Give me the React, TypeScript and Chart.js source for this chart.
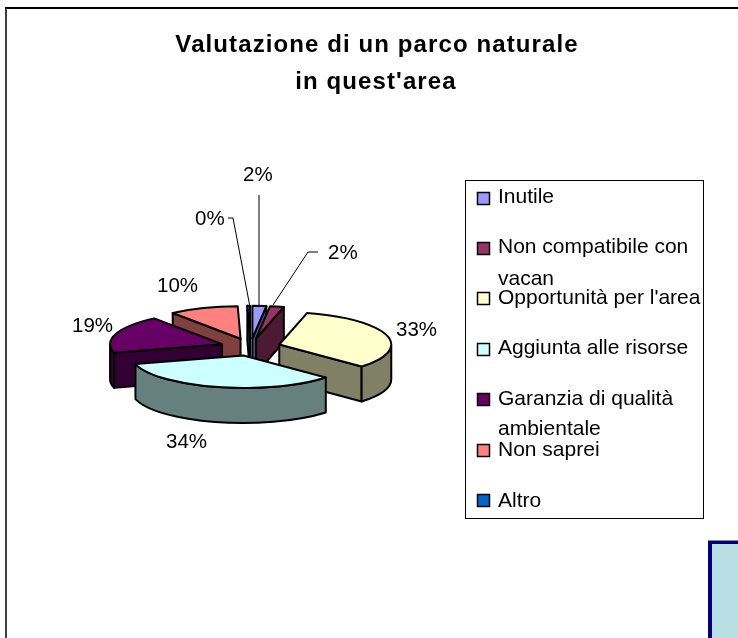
import React, { useEffect, useRef } from "react";
import { Chart, registerables } from "chart.js";

Chart.register(...registerables);

const titleLines = ["Valutazione di un parco naturale", "in quest'area"];
const categories = [
  "Inutile",
  "Non compatibile con vacan",
  "Opportunità per l'area",
  "Aggiunta alle risorse",
  "Garanzia di qualità ambientale",
  "Non saprei",
  "Altro",
];
const values = [2, 2, 33, 34, 19, 10, 0.4];
const topColors = ["#9999ff", "#993366", "#ffffcc", "#ccffff", "#660066", "#ff8080", "#0066cc"];
const wallColors = ["#4d4d80", "#4d1a33", "#808066", "#668080", "#330033", "#804040", "#003366"];

const FONT = '"Liberation Sans", Arial, sans-serif';
const FLATTEN = 0.29;
const DEPTH = 35;
const EXPLODE = 30;
const paintOrder = [6, 0, 1, 5, 4, 2, 3];
const labelSpots = [
  { x: 243, y: 181 },
  { x: 328, y: 259 },
  { x: 396, y: 336 },
  { x: 166, y: 448 },
  { x: 72, y: 332 },
  { x: 157, y: 292 },
  { x: 195, y: 225 },
];
const leaders = [
  [[259, 195], [259, 307]],
  [[318, 252], [308, 252], [273, 305]],
  [[228, 218], [233, 218], [250, 307]],
];
const legendRows = [
  { box: 198, text: [203] },
  { box: 248, text: [253, 285] },
  { box: 298, text: [304] },
  { box: 349, text: [354] },
  { box: 399, text: [405, 435] },
  { box: 450, text: [456] },
  { box: 500, text: [507] },
];

function wrap(ctx: CanvasRenderingContext2D, s: string, max: number): string[] {
  const out: string[] = [];
  let cur = "";
  for (const w of s.split(" ")) {
    const t = cur ? cur + " " + w : w;
    if (ctx.measureText(t).width > max && cur) {
      out.push(cur);
      cur = w;
    } else cur = t;
  }
  if (cur) out.push(cur);
  return out;
}

const pie3d = {
  id: "pie3d",
  beforeDatasetsDraw(chart: any) {
    const ctx: CanvasRenderingContext2D = chart.ctx;
    const arcs = chart.getDatasetMeta(0).data;
    for (const i of paintOrder) {
      const arc = arcs[i];
      const { x, y, startAngle: s, endAngle: e, outerRadius: r } = arc;
      const mid = (s + e) / 2;
      const ax = x + Math.cos(mid) * EXPLODE;
      const ay = y + Math.sin(mid) * EXPLODE * FLATTEN;
      const px = (t: number) => ax + Math.cos(t) * r;
      const py = (t: number) => ay + Math.sin(t) * r * FLATTEN;

      ctx.save();
      ctx.lineWidth = 2;
      ctx.lineJoin = "round";
      ctx.strokeStyle = "#000";
      ctx.fillStyle = wallColors[i];

      const face = (t: number) => {
        ctx.beginPath();
        ctx.moveTo(ax, ay);
        ctx.lineTo(px(t), py(t));
        ctx.lineTo(px(t), py(t) + DEPTH);
        ctx.lineTo(ax, ay + DEPTH);
        ctx.closePath();
        ctx.fill();
        ctx.stroke();
      };
      if (Math.cos(s) < 0) face(s);
      if (Math.cos(e) > 0) face(e);

      const a0 = Math.max(s, 0);
      const a1 = Math.min(e, Math.PI);
      if (a1 > a0) {
        ctx.beginPath();
        ctx.ellipse(ax, ay, r, r * FLATTEN, 0, a0, a1);
        ctx.lineTo(px(a1), py(a1) + DEPTH);
        ctx.ellipse(ax, ay + DEPTH, r, r * FLATTEN, 0, a1, a0, true);
        ctx.closePath();
        ctx.fill();
        ctx.stroke();
      }

      ctx.save();
      ctx.translate(ax, ay);
      ctx.scale(1, FLATTEN);
      ctx.translate(-x, -y);
      arc.draw(ctx);
      ctx.restore();

      ctx.beginPath();
      ctx.moveTo(ax, ay);
      ctx.ellipse(ax, ay, r, r * FLATTEN, 0, s, e);
      ctx.closePath();
      ctx.stroke();
      ctx.restore();
    }
    return false;
  },
  afterDraw(chart: any) {
    const ctx: CanvasRenderingContext2D = chart.ctx;
    ctx.save();

    // outer frame
    ctx.fillStyle = "#404040";
    ctx.fillRect(5, 8, 2, 630);
    ctx.fillStyle = "#000";
    ctx.fillRect(5, 7, 733, 2);

    // title
    ctx.fillStyle = "#000";
    ctx.textBaseline = "alphabetic";
    ctx.textAlign = "center";
    ctx.font = `bold 24px ${FONT}`;
    (ctx as any).letterSpacing = "1.1px";
    ctx.fillText(titleLines[0], 377, 52);
    ctx.fillText(titleLines[1], 376, 89);
    (ctx as any).letterSpacing = "0px";
    ctx.textAlign = "left";

    // value labels
    ctx.font = `20.5px ${FONT}`;
    const total = values.reduce((a, b) => a + b, 0);
    values.forEach((v, i) => {
      ctx.fillText(`${Math.round((v / total) * 100)}%`, labelSpots[i].x, labelSpots[i].y);
    });

    // leader lines
    ctx.strokeStyle = "#000";
    ctx.lineWidth = 1;
    for (const l of leaders) {
      ctx.beginPath();
      l.forEach(([x, y], k) => (k ? ctx.lineTo(x, y) : ctx.moveTo(x, y)));
      ctx.stroke();
    }

    // legend
    ctx.font = `21px ${FONT}`;
    ctx.strokeStyle = "#000";
    ctx.lineWidth = 1;
    ctx.strokeRect(465.5, 180.5, 238, 338);
    categories.forEach((c, i) => {
      const row = legendRows[i];
      ctx.fillStyle = topColors[i];
      ctx.fillRect(477, row.box - 6, 13, 13);
      ctx.lineWidth = 1.5;
      ctx.strokeRect(477.5, row.box - 5.5, 12, 12);
      ctx.lineWidth = 1;
      ctx.fillStyle = "#000";
      wrap(ctx, c, 205).forEach((line, k) => ctx.fillText(line, 498, row.text[k]));
    });

    // corner box
    ctx.fillStyle = "#b8e0e4";
    ctx.fillRect(708, 540, 30, 98);
    ctx.fillStyle = "#000080";
    ctx.fillRect(708, 540, 30, 4);
    ctx.fillRect(708, 540, 4, 98);
    ctx.fillStyle = "#8888aa";
    ctx.fillRect(708, 540, 30, 1);
    ctx.restore();
  },
};

export default function App() {
  const ref = useRef<HTMLCanvasElement>(null);
  useEffect(() => {
    const chart = new Chart(ref.current!, {
      type: "pie",
      data: {
        labels: categories,
        datasets: [
          {
            data: values,
            backgroundColor: topColors,
            borderWidth: 0,
          },
        ],
      },
      options: {
        responsive: false,
        animation: false,
        radius: 112,
        layout: { padding: { left: 130.5, right: 367.5, top: 227, bottom: 171 } },
        plugins: { legend: { display: false }, title: { display: false }, tooltip: { enabled: false } },
      },
      plugins: [pie3d],
    } as any);
    return () => chart.destroy();
  }, []);
  return (
    <div style={{ position: "absolute", left: 0, top: 0, width: 738, height: 638, background: "#fff" }}>
      <canvas ref={ref} width={738} height={638} style={{ display: "block" }} />
    </div>
  );
}
